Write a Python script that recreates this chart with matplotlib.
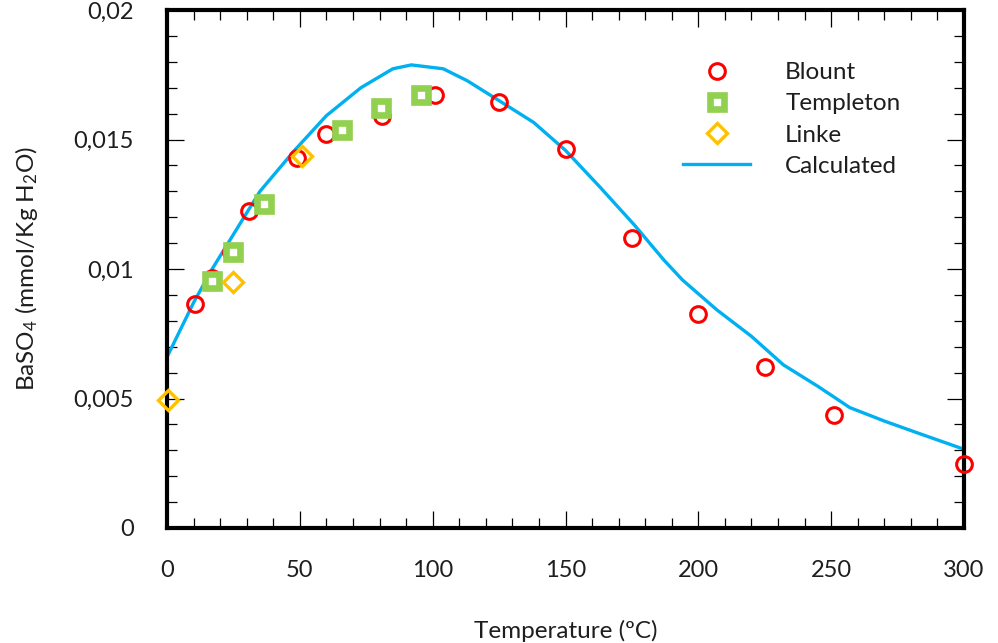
import matplotlib
matplotlib.use("Agg")
import matplotlib.pyplot as plt
from matplotlib.lines import Line2D
from matplotlib.ticker import MultipleLocator, FuncFormatter

plt.rcParams['font.family'] = ['Lato', 'DejaVu Sans']
plt.rcParams['mathtext.default'] = 'regular'

# ── data ──────────────────────────────────────────────────────────────────────
blount_t = [10.5, 17, 24, 31, 49, 60, 81, 101, 125, 150, 175, 200, 225, 251, 300]
blount_s = [0.00865, 0.00967, 0.01066, 0.01224, 0.0143, 0.01522, 0.01592, 0.01673,
            0.01643, 0.01465, 0.01119, 0.00827, 0.0062, 0.00438, 0.00248]

templeton_t = [17, 25, 36.6, 66, 80.5, 95.5]
templeton_s = [0.00954, 0.01066, 0.0125, 0.01538, 0.01623, 0.01673]

linke_t = [0.5, 25, 51]
linke_s = [0.00496, 0.0095, 0.01438]

calc_t = [0, 10, 17, 29, 35, 48, 60, 73, 85, 92, 104, 113, 125, 138, 150, 163,
          176, 187, 194, 207, 220, 232, 245, 257, 270, 282, 300]
calc_s = [0.0066, 0.0087, 0.0100, 0.0120, 0.0130, 0.01458, 0.01592, 0.0170, 0.01773,
          0.01788, 0.01773, 0.01727, 0.0165, 0.01566, 0.01458, 0.01316, 0.01169,
          0.01035, 0.00958, 0.00842, 0.0074, 0.0063, 0.00547, 0.00465, 0.00413,
          0.00369, 0.00304]

RED, GREEN, ORANGE, BLUE = '#FF0000', '#92D050', '#FFC000', '#00B0F0'
TXT = '#1e1e1e'

# ── figure ────────────────────────────────────────────────────────────────────
fig = plt.figure(figsize=(9.98, 6.43), dpi=100)
ax = fig.add_axes([167/998, 1-528/643, (964-167)/998, (528-10)/643])

ax.plot(calc_t, calc_s, color=BLUE, lw=2.4, zorder=2, clip_on=False)
ax.plot(blount_t, blount_s, 'o', ms=11.3, mfc='none', mec=RED, mew=2.2,
        zorder=3, clip_on=False)
ax.plot(templeton_t, templeton_s, 's', ms=9.6, mfc='white', mec=GREEN, mew=4.8,
        zorder=4, clip_on=False)
ax.plot(linke_t, linke_s, 'D', ms=10.5, mfc='none', mec=ORANGE, mew=2.4,
        zorder=5, clip_on=False)

ax.set_xlim(0, 300)
ax.set_ylim(0, 0.02)
ax.xaxis.set_major_locator(MultipleLocator(50))
ax.xaxis.set_minor_locator(MultipleLocator(10))
ax.yaxis.set_major_locator(MultipleLocator(0.005))
ax.yaxis.set_minor_locator(MultipleLocator(0.001))
ax.yaxis.set_major_formatter(FuncFormatter(
    lambda v, _: '0' if abs(v) < 1e-12 else f"{v:.3f}".rstrip('0').replace('.', ',')))

ax.tick_params(which='both', direction='in', top=True, right=True,
               width=0.9, color='black', labelsize=17, labelcolor=TXT)
ax.tick_params(which='major', length=12)
ax.tick_params(which='minor', length=7)
ax.tick_params(axis='x', which='major', pad=23)
ax.tick_params(axis='y', which='major', pad=24)
for sp in ax.spines.values():
    sp.set_linewidth(3)
    sp.set_color('black')

ax.set_xlabel('Temperature (ºC)', fontsize=17.5, color=TXT, labelpad=28)
ax.set_ylabel('BaSO$_4$ (mmol/Kg H$_2$O)', fontsize=17.5, color=TXT, labelpad=24)

# legend
handles = [
    Line2D([], [], ls='none', marker='o', ms=11.3, mfc='none', mec=RED, mew=2.2),
    Line2D([], [], ls='none', marker='s', ms=9.6, mfc='white', mec=GREEN, mew=4.8),
    Line2D([], [], ls='none', marker='D', ms=10.5, mfc='none', mec=ORANGE, mew=2.4),
    Line2D([], [], color=BLUE, lw=2.4),
]
ax.legend(handles, ['Blount', 'Templeton', 'Linke', 'Calculated'],
          loc='upper left', bbox_to_anchor=(671/998, 1-50/643),
          bbox_transform=fig.transFigure, frameon=False, fontsize=17.5,
          handlelength=2.75, handletextpad=1.45, labelspacing=0.42, borderpad=0,
          labelcolor=TXT)

fig.savefig('out.png', dpi=100)
